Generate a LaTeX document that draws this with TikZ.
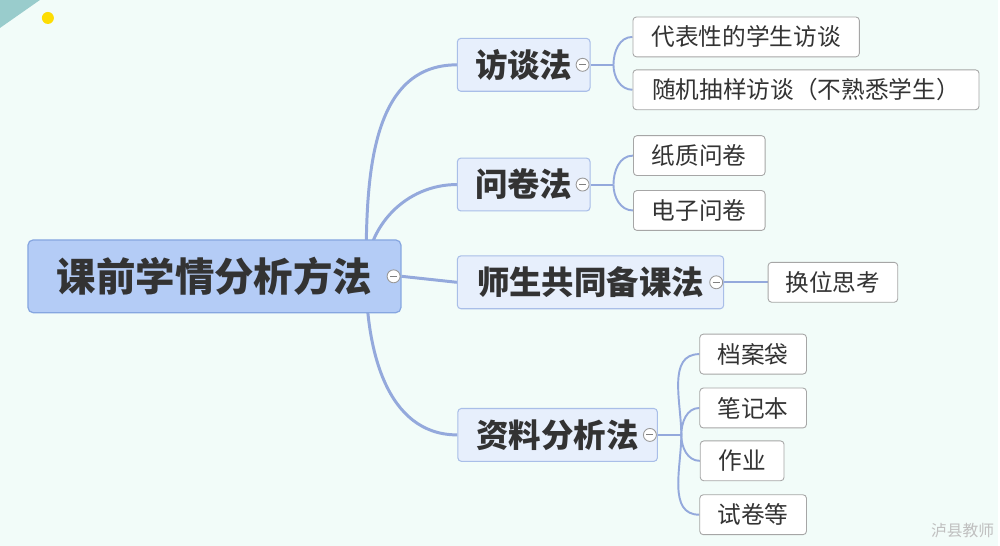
\documentclass[tikz,border=0pt]{standalone}
\usepackage{fontspec}
\newfontfamily\cjk{Noto Sans CJK SC}
\usetikzlibrary{positioning,backgrounds}
\definecolor{bgmint}{HTML}{F2FCF9}
\definecolor{rootfill}{HTML}{B4CCF6}
\definecolor{rootline}{HTML}{86A6E0}
\definecolor{subfill}{HTML}{E7EFFC}
\definecolor{subline}{HTML}{A9BEE8}
\definecolor{linkcol}{HTML}{94A9DC}
\definecolor{txt}{HTML}{333333}
\begin{document}
\begin{tikzpicture}[x=0.02cm,y=-0.02cm, font=\cjk, text=txt]
\tikzstyle{rootbox}=[draw=rootline,fill=rootfill,rounded corners=3pt,line width=0.7pt,font=\cjk\bfseries\fontsize{22.5}{26}\selectfont,minimum height=1.46cm,inner sep=0pt]
\tikzstyle{topic}=[draw=subline,fill=subfill,rounded corners=2pt,line width=0.6pt,font=\cjk\bfseries\fontsize{18.5}{22}\selectfont,minimum height=1.06cm,inner sep=0pt]
\tikzstyle{leaf}=[draw=gray!70,fill=white,rounded corners=2pt,line width=0.5pt,font=\cjk\fontsize{13.5}{16}\selectfont,minimum height=0.8cm,inner sep=0pt]
\tikzstyle{fold}=[circle,draw=gray!80,fill=white,line width=0.5pt,minimum size=0.26cm,inner sep=0pt]
\tikzstyle{trunk}=[draw=linkcol,line width=1.7pt]
\tikzstyle{twig}=[draw=linkcol,line width=1.1pt]
% nodes
\node[rootbox,minimum width=7.48cm] (root) at (215,277) {课前学情分析方法};
\node[topic,minimum width=2.66cm] (ft) at (525,65) {访谈法};
\node[topic,minimum width=2.66cm] (wj) at (525,185) {问卷法};
\node[topic,minimum width=5.34cm] (bk) at (592,283) {师生共同备课法};
\node[topic,minimum width=4.0cm] (zl) at (559,436) {资料分析法};
\node[leaf,minimum width=4.54cm] (ft1) at (748,37) {代表性的学生访谈};
\node[leaf,minimum width=6.94cm] (ft2) at (808,90) {随机抽样访谈（不熟悉学生）};
\node[leaf,minimum width=2.64cm] (wj1) at (701,156) {纸质问卷};
\node[leaf,minimum width=2.64cm] (wj2) at (701,211) {电子问卷};
\node[leaf,minimum width=2.6cm] (bk1) at (835,283) {换位思考};
\node[leaf,minimum width=2.14cm] (zl1) at (755,355) {档案袋};
\node[leaf,minimum width=2.14cm] (zl2) at (755,409) {笔记本};
\node[leaf,minimum width=1.68cm] (zl3) at (744,462) {作业};
\node[leaf,minimum width=2.14cm] (zl4) at (755,516) {试卷等};
\coordinate (rj) at (367,277);
\coordinate (ftj) at (615,65);
\coordinate (wjj) at (615,185);
\coordinate (zlj) at (683,436);
\node[text=gray!50,font=\cjk\fontsize{9}{10}\selectfont] (mark) at (965,532) {泸县教师};
% links
\begin{scope}[on background layer]
\fill[bgmint] (0,0) rectangle (1000,547);
\fill[teal!40] (0,0) -- (40,0) -- (0,28) -- cycle;
\fill[yellow!80!orange] (48,18) circle (6);
\path[trunk] (rj) to[out=90,in=180] (ft.west);
\path[trunk] (rj) to[out=90,in=180] (wj.west);
\path[trunk] (root.east) -- (bk.west);
\path[trunk] (rj) to[out=-90,in=180] (zl.west);
\path[twig] (ft.east) -- (ftj);
\path[twig] (ftj) to[out=90,in=180] (ft1.west);
\path[twig] (ftj) to[out=-90,in=180] (ft2.west);
\path[twig] (wj.east) -- (wjj);
\path[twig] (wjj) to[out=90,in=180] (wj1.west);
\path[twig] (wjj) to[out=-90,in=180] (wj2.west);
\path[twig] (bk.east) -- (bk1.west);
\path[twig] (zl.east) -- (zlj);
\path[twig] (zlj) to[out=90,in=180] (zl1.west);
\path[twig] (zlj) to[out=90,in=180] (zl2.west);
\path[twig] (zlj) to[out=-90,in=180] (zl3.west);
\path[twig] (zlj) to[out=-90,in=180] (zl4.west);
\end{scope}
% fold markers
\foreach \n in {root,ft,wj,bk,zl}{
  \node[fold] (\n f) at ([xshift=-0.16cm]\n.east) {};
  \draw[gray,line width=0.6pt] ([xshift=-2pt]\n f.center) -- ([xshift=2pt]\n f.center);
}
\useasboundingbox (0,0) rectangle (1000,547);
\end{tikzpicture}
\end{document}
